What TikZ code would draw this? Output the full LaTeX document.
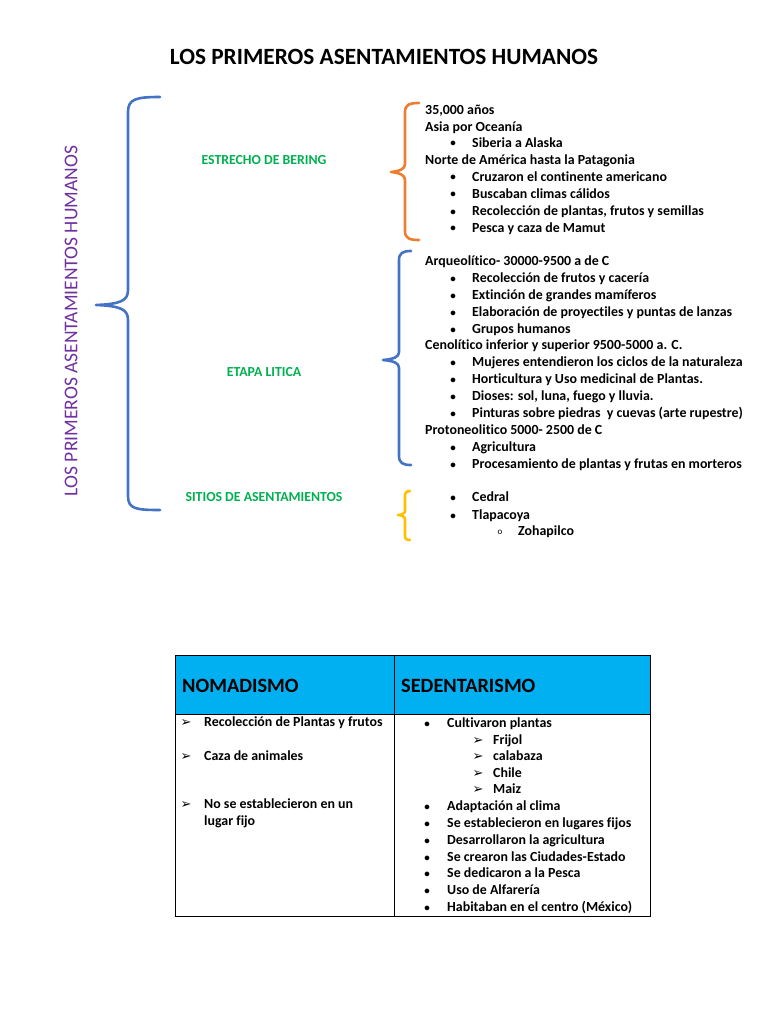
\documentclass[tikz,border=0pt]{standalone}
\usepackage{fontspec}
\setmainfont{Carlito}[Ligatures=NoCommon]
\newfontfamily\djv{DejaVu Sans}
\definecolor{bblue}{HTML}{4472C4}
\definecolor{borange}{HTML}{ED7D31}
\definecolor{byellow}{HTML}{FFC000}
\definecolor{lgreen}{HTML}{00B050}
\definecolor{lpurple}{HTML}{7030A0}
\definecolor{hcyan}{HTML}{00B0F0}
\begin{document}
\begin{tikzpicture}[x=1pt,y=-1pt,
  txt/.style={anchor=base west, inner sep=0pt, font=\fontsize{13.9}{16}\selectfont\bfseries},
  bul/.style={anchor=base, inner sep=0pt, font=\fontsize{11}{13}\selectfont\bfseries},
  arr/.style={anchor=base, inner sep=0pt, font=\fontsize{13}{15}\selectfont\djv},
  lbl/.style={inner sep=0pt, text=lgreen, font=\fontsize{13.8}{16}\selectfont\bfseries},
  brace/.style={line width=2.6pt, line cap=round, line join=round},
  hdr/.style={anchor=base west, inner sep=0pt, font=\fontsize{20.3}{24}\selectfont\bfseries}]
\useasboundingbox (0,0) rectangle (768,1024);

\node[inner sep=0pt, font=\fontsize{23.3}{27}\selectfont\bfseries] (title) at (384,57) {LOS PRIMEROS ASENTAMIENTOS HUMANOS};

\node[rotate=90, inner sep=0pt, text=lpurple, font=\fontsize{19.5}{22}\selectfont] (vt) at (71,321) {LOS PRIMEROS ASENTAMIENTOS HUMANOS};

% big brace
\draw[brace, bblue] (160,97) .. controls (136,97) and (128,99) .. (128,112) -- (128,290)
  .. controls (128,301) and (120,304) .. (96,305)
  .. controls (120,306) and (128,309) .. (128,320) -- (128,496)
  .. controls (128,509) and (136,510) .. (160,510);

\node[lbl] (l1) at (264,160) {ESTRECHO DE BERING};
\node[lbl] (l2) at (264,372) {ETAPA LITICA};
\node[lbl] (l3) at (264,497) {SITIOS DE ASENTAMIENTOS};

% orange brace
\draw[brace, borange] (419,103) .. controls (409,103) and (405,105) .. (405,112) -- (405,164)
  .. controls (405,169) and (400,171) .. (391,172)
  .. controls (400,173) and (405,175) .. (405,180) -- (405,231)
  .. controls (405,238) and (409,240) .. (419,240);

% blue brace 2
\draw[brace, bblue] (411,251) .. controls (403,251) and (399,253) .. (399,260) -- (399,352)
  .. controls (399,357) and (394,359) .. (383,360)
  .. controls (394,361) and (399,363) .. (399,368) -- (399,456)
  .. controls (399,463) and (403,465) .. (411,465);

% yellow brace
\draw[brace, byellow] (410,491) .. controls (406,491) and (405,493) .. (405,497) -- (405,511)
  .. controls (405,513) and (402,515) .. (398,515)
  .. controls (402,515) and (405,517) .. (405,519) -- (405,535)
  .. controls (405,539) and (406,540) .. (410,540);

% block 1
\foreach \x/\y/\t [count=\i] in {425/110/{35,000 años}, 425/127/{Asia por Oceanía}, 472/143/{Siberia a Alaska},
  425/160/{Norte de América hasta la Patagonia}, 472/177/{Cruzaron el continente americano},
  472/194/{Buscaban climas cálidos}, 472/211/{Recolección de plantas, frutos y semillas},
  472/228/{Pesca y caza de Mamut}}
  \node[txt] (a\i) at (\x,\y+4.5) {\t};
\foreach \y [count=\i] in {143,177,194,211,228}
  \node[bul] (ab\i) at (453,\y+4) {•};

% block 2
\foreach \x/\y/\t [count=\i] in {425/261/{Arqueolítico- 30000-9500 a de C}, 472/278/{Recolección de frutos y cacería},
  472/295/{Extinción de grandes mamíferos}, 472/312/{Elaboración de proyectiles y puntas de lanzas},
  472/329/{Grupos humanos}, 425/345/{Cenolítico inferior y superior 9500-5000 a. C.},
  472/362/{Mujeres entendieron los ciclos de la naturaleza}, 472/379/{Horticultura y Uso medicinal de Plantas.},
  472/396/{Dioses: sol, luna, fuego y lluvia.}, 472/413/{Pinturas sobre piedras\ \ y cuevas (arte rupestre)},
  425/430/{Protoneolitico 5000- 2500 de C}, 472/447/{Agricultura},
  472/464/{Procesamiento de plantas y frutas en morteros}}
  \node[txt] (b\i) at (\x,\y+4.5) {\t};
\foreach \y [count=\i] in {278,295,312,329,362,379,396,413,447,464}
  \node[bul] (bb\i) at (453,\y+4) {•};

% block 3
\node[txt] (c1) at (472,501.5) {Cedral};
\node[txt] (c2) at (472,519.5) {Tlapacoya};
\node[txt] (c3) at (518,535.5) {Zohapilco};
\node[bul] (cb1) at (453,501) {•};
\node[bul] (cb2) at (453,519) {•};
\node[anchor=base, inner sep=0pt, font=\fontsize{9}{11}\selectfont] (cb3) at (500,534) {o};

% table
\node[draw=black, line width=0.8pt, fill=hcyan, minimum width=475pt, minimum height=59pt, inner sep=0pt, anchor=north west] (th) at (175,655) {};
\node[draw=black, line width=0.8pt, minimum width=475pt, minimum height=202pt, inner sep=0pt, anchor=north west] (tb) at (175,714) {};
\draw[line width=0.8pt] (th.north west) ++(219pt,0) coordinate (cd1) -- (cd1 |- tb.south) coordinate (cd2);

\node[hdr] (h1) at (182,692) {NOMADISMO};
\node[hdr] (h2) at (401,692) {SEDENTARISMO};

\foreach \y/\t [count=\i] in {722/{Recolección de Plantas y frutos}, 756/{Caza de animales},
  804/{No se establecieron en un}, 821/{lugar fijo}}
  \node[txt] (n\i) at (204,\y+4.5) {\t};
\foreach \y [count=\i] in {722,756,804}
  \node[arr] (na\i) at (186,\y+4.5) {➢};

\foreach \x/\y/\t [count=\i] in {447/723/{Cultivaron plantas}, 493/740/{Frijol}, 493/756/{calabaza},
  493/773/{Chile}, 493/789/{Maiz}, 447/806/{Adaptación al clima}, 447/823/{Se establecieron en lugares fijos},
  447/840/{Desarrollaron la agricultura}, 447/857/{Se crearon las Ciudades-Estado},
  447/873/{Se dedicaron a la Pesca}, 447/890/{Uso de Alfarería}, 447/907/{Habitaban en el centro (México)}}
  \node[txt] (s\i) at (\x,\y+4.5) {\t};
\foreach \y [count=\i] in {723,806,823,840,857,873,890,907}
  \node[bul] (sb\i) at (427,\y+4) {•};
\foreach \y [count=\i] in {740,756,773,789}
  \node[arr] (sa\i) at (478,\y+4.5) {➢};
\end{tikzpicture}
\end{document}
